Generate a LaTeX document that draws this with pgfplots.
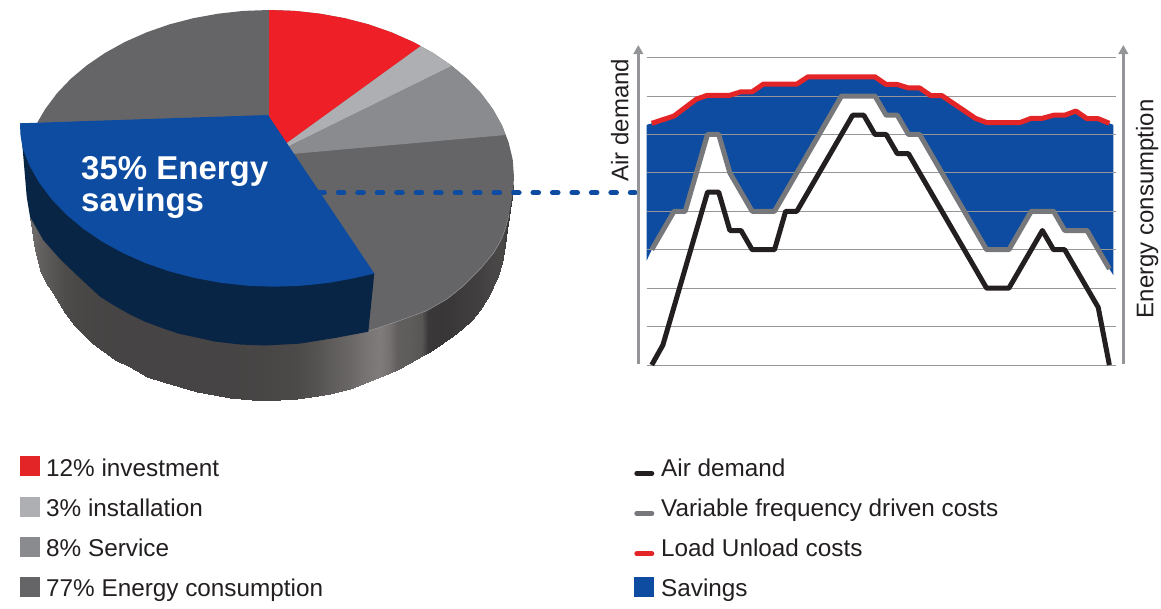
\documentclass[border=0pt]{standalone}
\usepackage{pgfplots}
\pgfplotsset{compat=1.18}
\usepackage{fontspec}
\setmainfont{Liberation Sans}
\usetikzlibrary{arrows.meta}
\definecolor{cred}{RGB}{238,31,38}
\definecolor{cinst}{RGB}{174,175,178}
\definecolor{cserv}{RGB}{138,139,142}
\definecolor{cener}{RGB}{101,101,103}
\definecolor{cblue}{RGB}{13,76,160}
\definecolor{cnavy}{RGB}{9,37,69}
\definecolor{ctxt}{RGB}{35,31,32}
\definecolor{clred}{RGB}{228,37,40}
\definecolor{clgray}{RGB}{119,120,123}
\definecolor{cgrid}{RGB}{150,150,152}
\definecolor{carrow}{RGB}{147,149,152}
\pgfplotstableread{
i l
0 6.29
2 6.48
4 6.92
5 7.02
7 7.02
8 7.11
9 7.11
10 7.31
13 7.31
14 7.5
20 7.5
21 7.3
22 7.3
23 7.21
24 7.21
25 7.01
26 7.01
29 6.42
30 6.31
33 6.31
34 6.42
35 6.42
36 6.5
37 6.5
38 6.61
39 6.41
40 6.41
41 6.29
}\redtab
\pgfplotstableread{
i l
0 3
2 4
3 4
5 6
6 6
7 5
9 4
11 4
17 7
20 7
21 6.5
22 6.5
23 6
24 6
30 3
32 3
34 4
36 4
37 3.5
39 3.5
41 2.5
}\graytab
\pgfplotstableread{
i l
0 0
1 0.52
5 4.5
6 4.5
7 3.5
8 3.5
9 3
11 3
12 4
13 4
18 6.5
19 6.5
20 6
21 6
22 5.5
23 5.5
30 2
32 2
35 3.5
36 3
37 3
40 1.5
41 0
}\blacktab
\begin{document}
\begin{tikzpicture}
\path[use as bounding box] (0,0) rectangle (1161pt,608pt);
\begin{axis}[at={(0pt,0pt)},anchor=south west,scale only axis,width=1161pt,height=608pt,
  xmin=0,xmax=1161,ymin=0,ymax=608,y dir=reverse,hide axis,clip=false,
  colormap={side}{rgb255=(0,0,0) rgb255=(255,246,246)},point meta min=0,point meta max=255]
% cylinder side
\addplot[surf,shader=interp,mesh/rows=2,mesh/ordering=y varies,point meta=\thisrow{g}] table[x=x,y=y]{
x y g
30 185 110
30 216.7 110
35 185 108
35 250 108
40 185 100
40 270 100
46.5 185 94
46.5 283 94
53 185 88
53 293 88
65 185 78
65 313 78
75 185 74
75 326 74
92 185 72
92 342.6 72
115 185 70
115 359.6 70
130 185 70
130 366.7 70
147 185 70
147 376.6 70
163.3 185 70
163.3 381.7 70
196.7 185 70
196.7 392.3 70
230 185 70
230 398.3 70
263.3 185 72
263.3 400.7 72
296.7 185 76
296.7 399.3 76
318 185 86
318 396 86
330 185 95
330 394 95
350 185 106
350 388.5 106
363 185 118
363 384 118
380 185 128
380 376.7 128
390 185 116
390 373 116
397 185 98
397 370 98
410 185 95
410 362.5 95
422 185 88
422 356 88
428 185 58
428 352.5 58
443 185 56
443 343.3 56
453 185 58
453 336 58
463 185 62
463 328.3 62
472 185 64
472 320 64
480 185 66
480 310 66
487 185 70
487 299 70
493 185 72
493 286.7 72
498 185 73
498 276 73
502 185 74
502 263 74
505 185 66
505 245 66
507 185 56
507 230 56
513 185 56
513 190 56
};
% top face: energy consumption
\addplot[fill=cener,draw=none] coordinates {
(269,10)(294.6,10.9)(319.9,13.7)(344.7,18.2)(368.6,24.4)(391.5,32.4)(413,41.9)(432.9,52.9)(451.1,65.3)(467.2,78.8)(481.2,93.5)(492.8,109.1)(502,125.4)(508.6,142.3)(512.7,159.5)(514,177)(513.2,190)(511.7,200)(509,215)(505,230)(500,242)(493.3,253.3)(480,269.3)(463.3,286)(446.7,299.3)(426.7,310.7)(396.7,321.7)(369.3,330.7)(344,337)(275,300)(40,200)(30,150)(37.8,121.7)(45.2,109.1)(56.8,93.5)(70.8,78.8)(86.9,65.3)(105.1,52.9)(125,41.9)(146.5,32.4)(169.4,24.4)(193.3,18.2)(218.1,13.7)(243.4,10.9)} -- cycle;
\addplot[cgrid,line width=0.5pt] coordinates {(369.3,330.7)(396.7,321.7)(426.7,310.7)(446.7,299.3)(463.3,286)(480,269.3)(493.3,253.3)(500,242)(505,230)(509,215)};
% slices
\addplot[fill=cred,draw=none] coordinates {(269,156)(269,10)(294.6,10.9)(319.9,13.7)(344.7,18.2)(368.6,24.4)(391.5,32.4)(413,41.9)(420.8,46)} -- cycle;
\addplot[fill=cinst,draw=none] coordinates {(269,156)(420.8,46)(432.9,52.9)(451.8,66)} -- cycle;
\addplot[fill=cserv,draw=none] coordinates {(269,156)(451.8,66)(467.2,78.8)(481.2,93.5)(492.8,109.1)(502,125.4)(505.5,135)} -- cycle;
% blue slice side
\addplot[fill=cnavy,draw=none] coordinates {(20,123.3)(22.6,148.1)(26.7,196.7)(30,216.7)(43.3,240)(60,259)(76.7,275)(100,296.7)(115,306)(130,314.5)(145,321.7)(163.3,328.5)(180,334)(196.7,337.5)(215,341.6)(240,344.5)(265,345.5)(300,343.6)(335,338)(368.3,331.7)(374.3,273.5)(275,200)} -- cycle;
% blue slice top
\addplot[fill=cblue,draw=none] coordinates {(20,123.3)(20.5,135)(22.6,148.1)(29.6,165.8)(39.3,182.9)(51.6,199.2)(66.3,214.6)(83.3,228.8)(102.4,241.8)(123.4,253.3)(146,263.3)(170.1,271.6)(195.3,278.1)(221.4,282.9)(248,285.7)(275,286.7)(302,285.7)(328.6,282.9)(354.7,278.1)(374.3,273.5)(268,115)} -- cycle;
% dotted link
\addplot[cblue,line width=5pt,line cap=round,dash pattern=on 5.6pt off 13.87pt] coordinates {(318.8,192.7)(635,192.7)};
\node[anchor=base west,inner sep=0pt,text=white,font=\bfseries\fontsize{33}{33}\selectfont] at (axis cs:81,179.5) {35\% Energy};
\node[anchor=base west,inner sep=0pt,text=white,font=\bfseries\fontsize{33}{33}\selectfont] at (axis cs:81,211.7) {savings};
% axis arrows and names
\addplot[carrow,line width=3.2pt,-{Triangle[length=9pt,width=9.5pt]}] coordinates {(638.3,364)(638.3,45)};
\addplot[carrow,line width=3.2pt,-{Triangle[length=9pt,width=9.5pt]}] coordinates {(1123.3,364)(1123.3,45)};
\node[rotate=90,anchor=base west,inner sep=0pt,text=ctxt,font=\fontsize{24}{28}\selectfont] at (axis cs:628.3,181.7) {Air demand};
\node[rotate=90,anchor=base west,inner sep=0pt,text=ctxt,font=\fontsize{24}{28}\selectfont] at (axis cs:1153.3,318.3) {Energy consumption};
% legend, left
\addplot[fill=clred,draw=none] coordinates {(20,456)(40,456)(40,476)(20,476)} -- cycle;
\addplot[fill=cinst,draw=none] coordinates {(20,497)(40,497)(40,517)(20,517)} -- cycle;
\addplot[fill=cserv,draw=none] coordinates {(20,537)(40,537)(40,557)(20,557)} -- cycle;
\addplot[fill=cener,draw=none] coordinates {(20,577)(40,577)(40,597)(20,597)} -- cycle;
\node[anchor=base west,inner sep=0pt,text=ctxt,font=\fontsize{24.3}{28}\selectfont] at (axis cs:46,476) {12\% investment};
\node[anchor=base west,inner sep=0pt,text=ctxt,font=\fontsize{24.3}{28}\selectfont] at (axis cs:46,516.3) {3\% installation};
\node[anchor=base west,inner sep=0pt,text=ctxt,font=\fontsize{24.3}{28}\selectfont] at (axis cs:46,556.5) {8\% Service};
\node[anchor=base west,inner sep=0pt,text=ctxt,font=\fontsize{24.3}{28}\selectfont] at (axis cs:46,596.7) {77\% Energy consumption};
% legend, right
\addplot[ctxt,line width=5pt,line cap=round] coordinates {(636.8,473.3)(651.8,473.3)};
\addplot[clgray,line width=5pt,line cap=round] coordinates {(636.8,513.5)(651.8,513.5)};
\addplot[clred,line width=5pt,line cap=round] coordinates {(636.8,553.7)(651.8,553.7)};
\addplot[fill=cblue,draw=none] coordinates {(634.3,577)(654.3,577)(654.3,597)(634.3,597)} -- cycle;
\node[anchor=base west,inner sep=0pt,text=ctxt,font=\fontsize{24.3}{28}\selectfont] at (axis cs:661,476) {Air demand};
\node[anchor=base west,inner sep=0pt,text=ctxt,font=\fontsize{24.3}{28}\selectfont] at (axis cs:661,516.3) {Variable frequency driven costs};
\node[anchor=base west,inner sep=0pt,text=ctxt,font=\fontsize{24.3}{28}\selectfont] at (axis cs:661,556.5) {Load Unload costs};
\node[anchor=base west,inner sep=0pt,text=ctxt,font=\fontsize{24.3}{28}\selectfont] at (axis cs:661,596.7) {Savings};
\end{axis}
\begin{axis}[at={(646.7pt,243pt)},anchor=south west,scale only axis,width=468.8pt,height=307.4pt,
  xmin=-0.45,xmax=41.55,ymin=0,ymax=8,hide axis,clip=false]
\addplot[fill=cblue,draw=none] coordinates {
(-0.45,6.25)(0,6.29)(2,6.48)(4,6.92)(5,7.02)(7,7.02)(8,7.11)(9,7.11)(10,7.31)(13,7.31)(14,7.5)(20,7.5)(21,7.3)(22,7.3)(23,7.21)(24,7.21)(25,7.01)(26,7.01)(29,6.42)(30,6.31)(33,6.31)(34,6.42)(35,6.42)(36,6.5)(37,6.5)(38,6.61)(39,6.41)(40,6.41)(41,6.29)(41.35,6.25)
(41.35,2.34)(41,2.5)(39,3.5)(37,3.5)(36,4)(34,4)(32,3)(30,3)(24,6)(23,6)(22,6.5)(21,6.5)(20,7)(17,7)(11,4)(9,4)(7,5)(6,6)(5,6)(3,4)(2,4)(0,3)(-0.45,2.72)} -- cycle;
\pgfplotsinvokeforeach{0,...,8}{\addplot[cgrid,line width=0.9pt] coordinates {(-0.45,#1)(41.55,#1)};}
\addplot[clgray,line width=5pt,line join=round] table[x=i,y=l]{\graytab};
\addplot[clred,line width=5pt,line join=round] table[x=i,y=l]{\redtab};
\addplot[ctxt,line width=5pt,line join=round] table[x=i,y=l]{\blacktab};
\end{axis}
\end{tikzpicture}
\end{document}
